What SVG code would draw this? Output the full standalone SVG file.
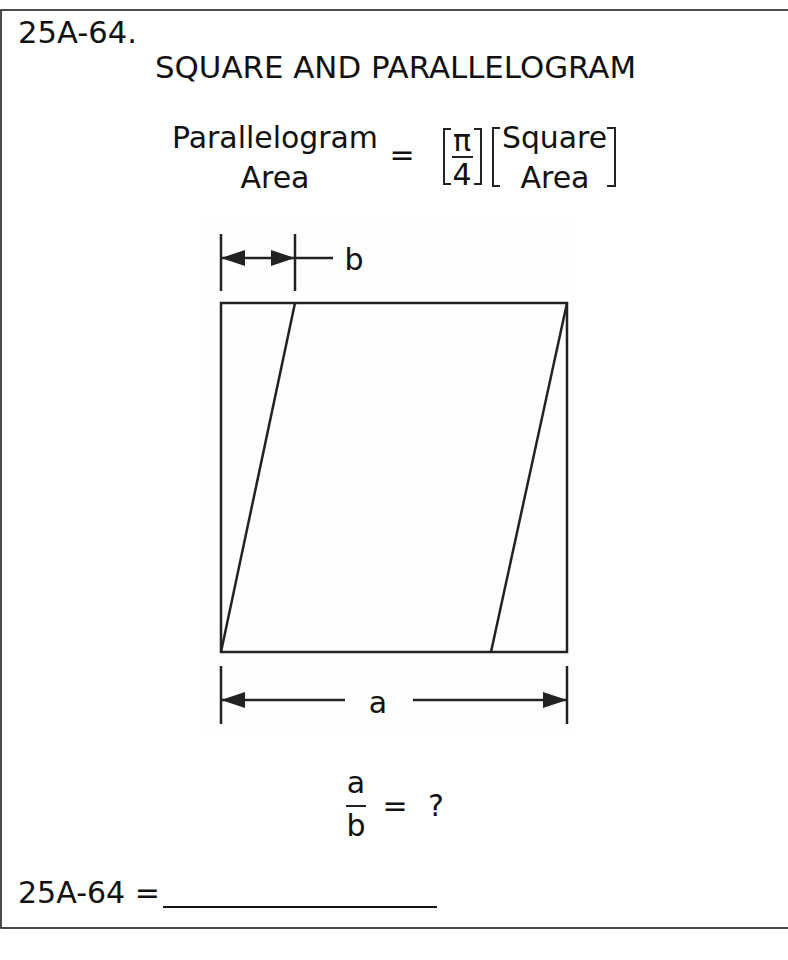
<svg xmlns="http://www.w3.org/2000/svg" width="788" height="960" viewBox="0 0 788 960">
<style>
text{font-family:"DejaVu Sans","Verdana",sans-serif;fill:#111}
.t{font-size:30px}
.ln{stroke:#222;stroke-width:2.5;fill:none}
.thin{stroke:#222;stroke-width:2;fill:none}
</style>
<defs>
<marker id="ahb" viewBox="0 0 24 16" refX="24" refY="8" markerWidth="24" markerHeight="16" markerUnits="userSpaceOnUse" orient="auto-start-reverse">
<path d="M0,0 L24,8 L0,16 z" fill="#222"/>
</marker>
</defs>
<rect x="0" y="0" width="788" height="960" fill="#fff"/>
<path d="M790,10 H1 V928 H790" fill="none" stroke="#111" stroke-width="1.5"/>
<g id="title">
<text class="t" x="18" y="43" textLength="119" lengthAdjust="spacingAndGlyphs">25A-64.</text>
<text class="t" x="155" y="78" textLength="481" lengthAdjust="spacingAndGlyphs">SQUARE AND PARALLELOGRAM</text>
</g>
<g id="formula">
<text class="t" x="172" y="148" textLength="206" lengthAdjust="spacingAndGlyphs">Parallelogram</text>
<text class="t" x="275" y="188" text-anchor="middle">Area</text>
<text class="t" x="402" y="165" text-anchor="middle">=</text>
<path class="thin" d="M451,129 H444 V184 H451 M474,129 H481 V184 H474"/>
<text class="t" x="462" y="151" text-anchor="middle">π</text>
<line class="thin" x1="452" y1="157" x2="473" y2="157"/>
<text class="t" x="462" y="185" text-anchor="middle">4</text>
<path class="thin" d="M500,128 H493 V186 H500 M607,128 H615 V186 H607"/>
<text class="t" x="502" y="148" textLength="105" lengthAdjust="spacingAndGlyphs">Square</text>
<text class="t" x="555" y="188" text-anchor="middle">Area</text>
</g>
<g id="figure">
<rect x="205" y="222" width="370" height="514" fill="#fefefc"/>
<rect class="ln" x="221" y="303" width="346" height="349"/>
<line class="ln" x1="295" y1="303" x2="221" y2="652"/>
<line class="ln" x1="567" y1="303" x2="491" y2="652"/>
</g>
<g id="dim-b">
<line class="ln" x1="221" y1="234" x2="221" y2="291"/>
<line class="ln" x1="295" y1="234" x2="295" y2="291"/>
<line class="ln" x1="221" y1="258" x2="295" y2="258" marker-start="url(#ahb)" marker-end="url(#ahb)"/>
<line class="ln" x1="295" y1="258" x2="333" y2="258"/>
<text x="354" y="270" font-size="30" text-anchor="middle">b</text>
</g>
<g id="dim-a">
<line class="ln" x1="221" y1="666" x2="221" y2="724"/>
<line class="ln" x1="567" y1="666" x2="567" y2="724"/>
<line class="ln" x1="345" y1="700" x2="221" y2="700" marker-end="url(#ahb)"/>
<line class="ln" x1="413" y1="700" x2="567" y2="700" marker-end="url(#ahb)"/>
<text x="378" y="713" font-size="30" text-anchor="middle">a</text>
</g>
<g id="question">
<text class="t" x="356" y="793" text-anchor="middle">a</text>
<line class="thin" x1="346" y1="806" x2="366" y2="806"/>
<text class="t" x="356" y="836" text-anchor="middle">b</text>
<text class="t" x="395" y="816" text-anchor="middle">=</text>
<text class="t" x="436" y="816" text-anchor="middle">?</text>
</g>
<g id="answer">
<text class="t" x="18" y="903" textLength="142" lengthAdjust="spacingAndGlyphs">25A-64 =</text>
<line x1="163" y1="907" x2="437" y2="907" stroke="#111" stroke-width="2"/>
</g>
</svg>
